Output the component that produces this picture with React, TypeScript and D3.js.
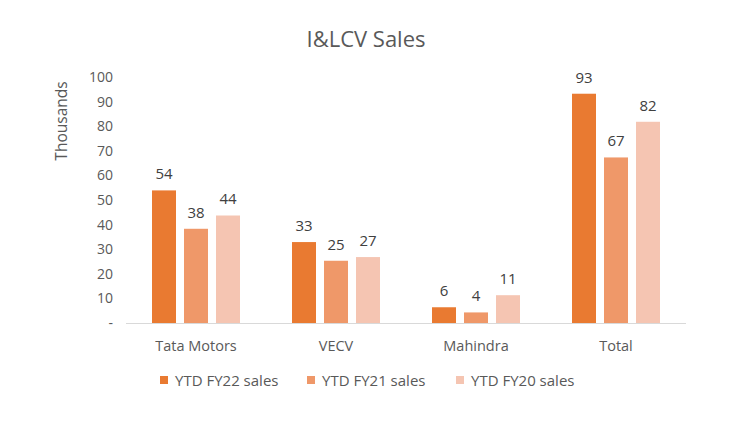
import React from "react";
import * as d3 from "d3";

const categories = ["Tata Motors", "VECV", "Mahindra", "Total"];
const seriesNames = ["YTD FY22 sales", "YTD FY21 sales", "YTD FY20 sales"];
const fy22 = [53.9, 32.9, 6.4, 93.2];
const fy21 = [38.3, 25.3, 4.3, 67.3];
const fy20 = [43.7, 26.8, 11.3, 81.8];
const yTicks = [0, 10, 20, 30, 40, 50, 60, 70, 80, 90, 100];
const colors = ["#E97A31", "#EF9869", "#F5C5B2"];

const W = 739;
const H = 430;
const font = "'Open Sans', sans-serif";

export default function App() {
  const series = [fy22, fy21, fy20];
  const x = d3.scaleBand().domain(categories).range([126, 686]).paddingInner(0).paddingOuter(0);
  const inner = d3
    .scaleBand<number>()
    .domain([0, 1, 2])
    .range([26, x.bandwidth() - 26])
    .paddingInner(0.25);
  const y = d3.scaleLinear().domain([0, 100]).range([323, 77]);

  const legendX = [160, 307, 456];

  return (
    <svg width={W} height={H} style={{ position: "absolute", left: 0, top: 0, background: "#fff" }} fontFamily={font}>
      <text x={366} y={47} textAnchor="middle" fontSize={22} fill="#595959">
        I&amp;LCV Sales
      </text>
      <text
        transform={`translate(67,121) rotate(-90)`}
        textAnchor="middle"
        fontSize={15.5}
        fill="#595959"
      >
        Thousands
      </text>
      {yTicks.map((t) => (
        <text key={t} x={113} y={y(t) + 5} textAnchor="end" fontSize={14} fill="#595959">
          {t === 0 ? "-" : t}
        </text>
      ))}
      <line x1={126} x2={686} y1={323.5} y2={323.5} stroke="#D9D9D9" strokeWidth={1} />
      {categories.map((c, ci) => (
        <g key={c} transform={`translate(${x(c)},0)`}>
          {series.map((s, si) => (
            <g key={si}>
              <rect
                x={inner(si)}
                y={y(s[ci])}
                width={inner.bandwidth()}
                height={y(0) - y(s[ci])}
                fill={colors[si]}
              />
              <text
                x={(inner(si) ?? 0) + inner.bandwidth() / 2}
                y={y(s[ci]) - 11}
                textAnchor="middle"
                fontSize={15}
                fill="#404040"
              >
                {Math.round(s[ci])}
              </text>
            </g>
          ))}
          <text x={x.bandwidth() / 2} y={351} textAnchor="middle" fontSize={14.5} fill="#595959">
            {c}
          </text>
        </g>
      ))}
      {seriesNames.map((n, i) => (
        <g key={n} transform={`translate(${legendX[i]},0)`}>
          <rect x={0} y={376} width={8} height={8} fill={colors[i]} />
          <text x={15} y={386} fontSize={15} fill="#595959">
            {n}
          </text>
        </g>
      ))}
    </svg>
  );
}
